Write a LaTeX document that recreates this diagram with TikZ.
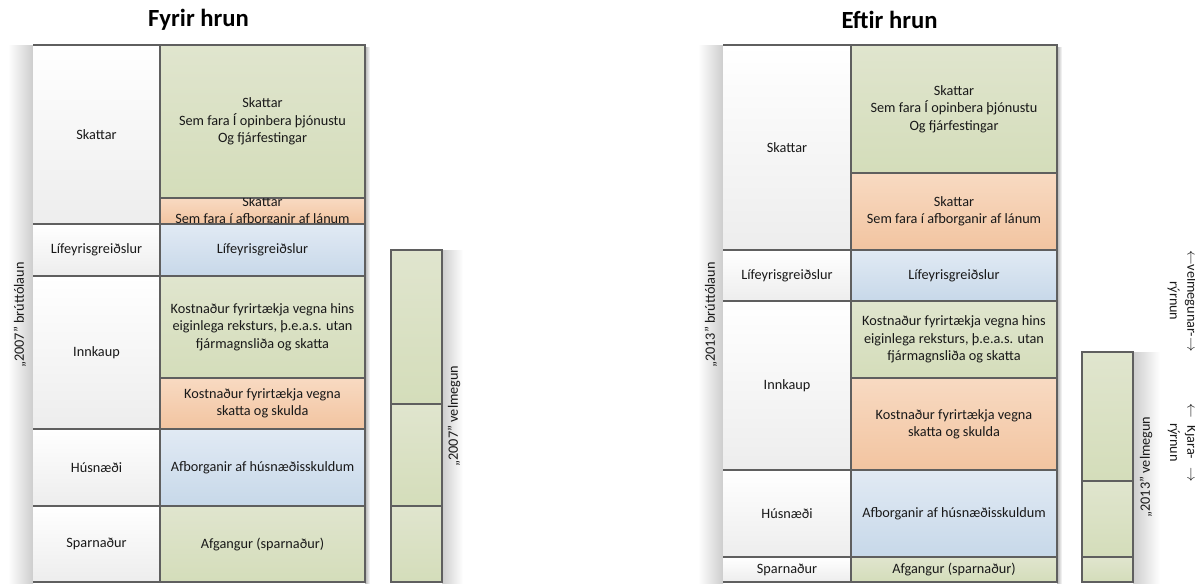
\documentclass[tikz,border=0pt]{standalone}
\usepackage{fontspec}
\setmainfont{Carlito}
\definecolor{gT}{RGB}{224,229,206}
\definecolor{gB}{RGB}{212,221,186}
\definecolor{oT}{RGB}{248,218,194}
\definecolor{oB}{RGB}{242,196,160}
\definecolor{bT}{RGB}{225,234,244}
\definecolor{bB}{RGB}{199,216,233}
\definecolor{lB}{RGB}{237,237,237}
\definecolor{edge}{RGB}{95,95,95}
\definecolor{shad}{RGB}{205,205,205}
% \cell[style]{name}{x1}{y1}{x2}{y2}{text}  (pixel coordinates)
\newcommand\cell[7][]{%
  \node[#1, minimum width={(#5-#3)*0.75pt}, minimum height={(#6-#4)*0.75pt}, anchor=center]
    (#2) at ({(#3+#5)/2},{(#4+#6)/2}) {#7};}
\begin{document}
\begin{tikzpicture}[x=0.75pt,y=-0.75pt,
  every node/.style={font=\fontsize{10.7}{13.1}\selectfont, text=black!90},
  base/.style={inner sep=0pt, outer sep=0pt, align=center},
  lcell/.style={base, top color=white, bottom color=lB},
  gcell/.style={base, draw=edge, line width=0.9pt, top color=gT, bottom color=gB},
  ocell/.style={base, draw=edge, line width=0.9pt, top color=oT, bottom color=oB},
  bcell/.style={base, draw=edge, line width=0.9pt, top color=bT, bottom color=bB},
  rule/.style={draw=edge, line width=0.9pt},
  title/.style={font=\fontsize{18.5}{22}\bfseries\selectfont, text=black},
  vlab/.style={rotate=90, inner sep=0pt},
  rlab/.style={rotate=-90, inner sep=0pt, align=center}
]
\useasboundingbox (0,0) rectangle (1195,583);

% ---------------- Fyrir hrun ----------------
\node[title] (t1) at (198.5,20) {Fyrir hrun};
\path[left color=white, right color=shad] (8,45) rectangle (33,583);
\path[left color=black!30, right color=white] (365,47) rectangle (370,583);
\node[vlab] (v1) at (20,315) {„2007" brúttólaun};

\cell[lcell]{a1}{33}{45}{160}{224}{Skattar}
\cell[lcell]{a2}{33}{224}{160}{276}{Lífeyrisgreiðslur}
\cell[lcell]{a3}{33}{276}{160}{429}{Innkaup}
\cell[lcell]{a4}{33}{429}{160}{506}{Húsnæði}
\cell[lcell]{a5}{33}{506}{160}{582}{Sparnaður}
\foreach \n in {1,...,5}
  \draw[rule] (a\n.north west) -- (a\n.north east) (a\n.south west) -- (a\n.south east);

\cell[gcell]{b1}{160}{45}{365}{198}{Skattar\\Sem fara Í opinbera þjónustu\\Og fjárfestingar}
\cell[ocell]{b2}{160}{198}{365}{224}{}
\begin{scope}
  \clip (b2.north west) rectangle (b2.south east);
  \node[base] (b2t) at (b2.center) {Skattar\\Sem fara í afborganir af lánum};
\end{scope}
\cell[bcell]{b3}{160}{224}{365}{276}{Lífeyrisgreiðslur}
\cell[gcell]{b4}{160}{276}{365}{378}{Kostnaður fyrirtækja vegna hins\\eiginlega reksturs, þ.e.a.s. utan\\fjármagnsliða og skatta}
\cell[ocell]{b5}{160}{378}{365}{429}{Kostnaður fyrirtækja vegna\\skatta og skulda}
\cell[bcell]{b6}{160}{429}{365}{506}{Afborganir af húsnæðisskuldum}
\cell[gcell]{b7}{160}{506}{365}{582}{Afgangur (sparnaður)}

\path[left color=shad, right color=white] (442,250) rectangle (463,583);
\cell[gcell]{c1}{391}{250}{442}{404}{}
\cell[gcell]{c2}{391}{404}{442}{506}{}
\cell[gcell]{c3}{391}{506}{442}{582}{}
\node[vlab] (v2) at (454,416) {„2007" velmegun};

% ---------------- Eftir hrun ----------------
\node[title] (t2) at (889.5,20) {Eftir hrun};
\path[left color=white, right color=shad] (698,45) rectangle (723,583);
\path[left color=black!30, right color=white] (1057,47) rectangle (1062,583);
\node[vlab] (v3) at (711,315) {„2013" brúttólaun};

\cell[lcell]{d1}{723}{45}{851}{250}{Skattar}
\cell[lcell]{d2}{723}{250}{851}{301}{Lífeyrisgreiðslur}
\cell[lcell]{d3}{723}{301}{851}{470}{Innkaup}
\cell[lcell]{d4}{723}{470}{851}{557}{Húsnæði}
\cell[lcell]{d5}{723}{557}{851}{582}{Sparnaður}
\foreach \n in {1,...,5}
  \draw[rule] (d\n.north west) -- (d\n.north east) (d\n.south west) -- (d\n.south east);

\cell[gcell]{e1}{851}{45}{1057}{173}{Skattar\\Sem fara Í opinbera þjónustu\\Og fjárfestingar}
\cell[ocell]{e2}{851}{173}{1057}{250}{Skattar\\Sem fara í afborganir af lánum}
\cell[bcell]{e3}{851}{250}{1057}{301}{Lífeyrisgreiðslur}
\cell[gcell]{e4}{851}{301}{1057}{378}{Kostnaður fyrirtækja vegna hins\\eiginlega reksturs, þ.e.a.s. utan\\fjármagnsliða og skatta}
\cell[ocell]{e5}{851}{378}{1057}{470}{Kostnaður fyrirtækja vegna\\skatta og skulda}
\cell[bcell]{e6}{851}{470}{1057}{557}{Afborganir af húsnæðisskuldum}
\cell[gcell]{e7}{851}{557}{1057}{582}{Afgangur (sparnaður)}

\path[left color=shad, right color=white] (1133,352) rectangle (1160,583);
\cell[gcell]{f1}{1082}{352}{1133}{481}{}
\cell[gcell]{f2}{1082}{481}{1133}{557}{}
\cell[gcell]{f3}{1082}{557}{1133}{582}{}
\node[vlab] (v4) at (1146,467) {„2013" velmegun};

\node[rlab, text width=76.5pt] (r1) at (1182.5,301) {$\leftarrow$\hfill velmegunar-\hfill$\rightarrow$\\rýrnun};
\node[rlab, text width=59pt] (r2) at (1182.5,442.5) {$\leftarrow$\hfill Kjara-\hfill$\rightarrow$\\rýrnun};
\end{tikzpicture}
\end{document}
